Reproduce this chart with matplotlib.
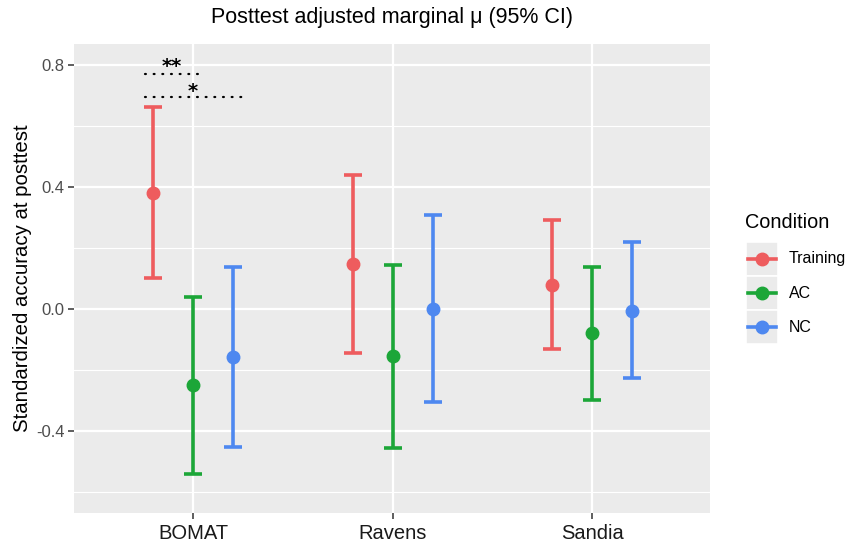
import matplotlib.pyplot as plt
import numpy as np

plt.rcParams['font.family'] = ['Liberation Sans', 'DejaVu Sans']

# dữ liệu
tests = ['BOMAT', 'Ravens', 'Sandia']
conditions = ['Training', 'AC', 'NC']
colors = ['#EE5C5E', '#1CA638', '#4E88F0']

est = {
    'Training': [0.380, 0.148, 0.079],
    'AC': [-0.249, -0.154, -0.079],
    'NC': [-0.157, 0.000, -0.007],
}
lower = {
    'Training': [0.102, -0.144, -0.131],
    'AC': [-0.541, -0.456, -0.298],
    'NC': [-0.452, -0.305, -0.226],
}
upper = {
    'Training': [0.662, 0.439, 0.292],
    'AC': [0.039, 0.144, 0.138],
    'NC': [0.138, 0.308, 0.220],
}

# dấu sao ý nghĩa (x0, x1, y, x nhãn, y nhãn, nhãn)
sig_lines = [(0.759, 1.035, 0.772, 0.895, 0.776, '**'),
             (0.759, 1.25, 0.694, 1.0, 0.695, '*')]

fig = plt.figure(figsize=(8.5, 5.43), dpi=100)
ax = fig.add_axes([74 / 850, 1 - 512.7 / 543, (710 - 74) / 850, (512.7 - 44) / 543])
ax.set_facecolor('#EBEBEB')
for s in ax.spines.values():
    s.set_visible(False)

x = np.arange(1, len(tests) + 1)
dodge = 0.2
for i, (cond, col) in enumerate(zip(conditions, colors)):
    xs = x + (i - 1) * dodge
    e = np.array(est[cond])
    lo = np.array(lower[cond])
    hi = np.array(upper[cond])
    ax.errorbar(xs, e, yerr=[e - lo, hi - e], fmt='o', color=col,
                ecolor=col, elinewidth=2.6, capsize=6.5, capthick=2.6,
                markersize=9, zorder=3)

ax.set_xlim(0.403, 3.59)
ax.set_ylim(-0.668, 0.869)
ax.set_xticks(x)
ax.set_xticklabels(tests, fontsize=14.5)
ax.set_yticks([-0.4, 0.0, 0.4, 0.8])
ax.set_yticklabels(['-0.4', '0.0', '0.4', '0.8'], fontsize=12)
ax.set_yticks([-0.6, -0.2, 0.2, 0.6], minor=True)
ax.grid(True, which='major', color='white', linewidth=1.6)
ax.grid(True, which='minor', axis='y', color='white', linewidth=0.8)
ax.set_axisbelow(True)
ax.tick_params(axis='both', which='major', length=4, width=1.1, color='#333333',
               labelcolor='#4D4D4D', pad=3)
ax.tick_params(axis='x', labelcolor='#1a1a1a', pad=4)
ax.tick_params(axis='y', which='minor', length=0)
ax.set_ylabel('Standardized accuracy at posttest', fontsize=14.7)
ax.yaxis.set_label_coords(-0.066, 0.5)

for x0, x1, y, xl, yl, lab in sig_lines:
    ax.plot([x0, x1], [y, y], color='black', linewidth=1.6,
            linestyle=(0, (0.4, 3.5)), dash_capstyle='round', zorder=4)
    ax.text(xl, yl, lab, ha='center', va='baseline', fontsize=14,
            family='DejaVu Sans', fontweight='bold', color='black')

fig.text(392 / 850, 1 - 17 / 543, 'Posttest adjusted marginal μ (95% CI)',
         ha='center', va='center', fontsize=15.5)

# chú giải vẽ tay theo kiểu ggplot
fig.text(745 / 850, 1 - 222 / 543, 'Condition', ha='left', va='center', fontsize=14.3)
key_w, key_h = 32, 34
for i, (cond, col) in enumerate(zip(conditions, colors)):
    top = 242 + i * key_h
    kx = 746 / 850
    ky = 1 - (top + key_h) / 543
    fig.patches.append(plt.Rectangle((kx, ky), key_w / 850, key_h / 543,
                                     transform=fig.transFigure, facecolor='#EBEBEB',
                                     edgecolor='white', linewidth=1.2))
    cy = 1 - (top + key_h / 2) / 543
    fig.add_artist(plt.Line2D([748 / 850, 776 / 850], [cy, cy], color=col,
                              linewidth=2.6, transform=fig.transFigure))
    fig.add_artist(plt.Line2D([762 / 850], [cy], color=col, marker='o',
                              markersize=9, transform=fig.transFigure))
    fig.text(789 / 850, cy, cond, ha='left', va='center', fontsize=11.5)

fig.savefig('out.png', dpi=100)
